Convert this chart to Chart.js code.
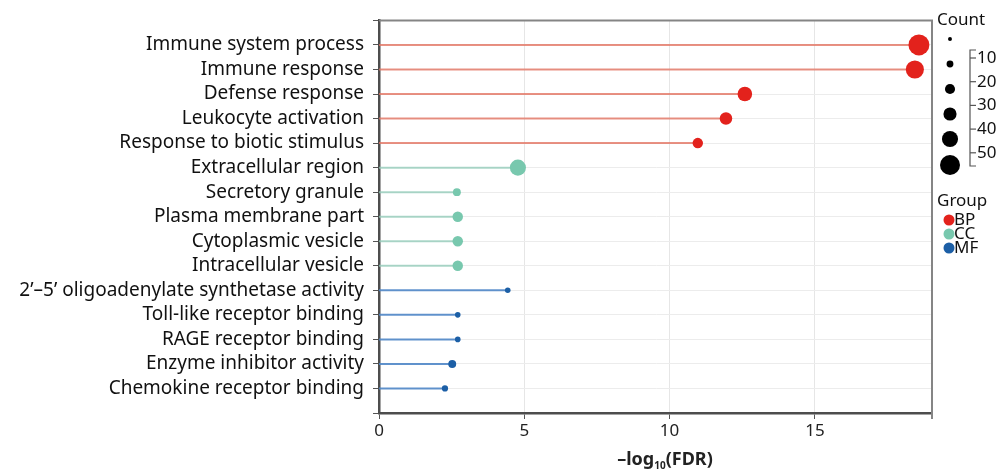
<!DOCTYPE html>
<html>
<head>
<meta charset="utf-8">
<script src="https://cdn.jsdelivr.net/npm/chart.js@4.4.1/dist/chart.umd.min.js"></script>
<style>
  html, body { margin: 0; padding: 0; background: #fff; }
  #wrap { width: 1002px; height: 470px; }
</style>
</head>
<body>
<div id="wrap"><canvas id="go-chart" width="1002" height="470"></canvas></div>
<script>
const categories = [
   "Immune system process",
   "Immune response",
   "Defense response",
   "Leukocyte activation",
   "Response to biotic stimulus",
   "Extracellular region",
   "Secretory granule",
   "Plasma membrane part",
   "Cytoplasmic vesicle",
   "Intracellular vesicle",
   "2\u2019\u20135\u2019 oligoadenylate synthetase activity",
   "Toll-like receptor binding",
   "RAGE receptor binding",
   "Enzyme inhibitor activity",
   "Chemokine receptor binding",
];
const groups = ["BP", "BP", "BP", "BP", "BP", "CC", "CC", "CC", "CC", "CC", "MF", "MF", "MF", "MF", "MF"];
const fdrScores = [18.58, 18.44, 12.59, 11.94, 10.97, 4.78, 2.68, 2.71, 2.71, 2.71, 4.43, 2.71, 2.71, 2.52, 2.27];
const counts = [56, 42, 27, 20, 14, 33, 8, 14, 14, 14, 4, 4, 4, 8, 5];
const xTickValues = [0, 5, 10, 15];
const X_MAX = 19.03;

const countLegendSizes = [2, 6, 13, 22, 33, 51];
const countLegendLabels = ["10", "20", "30", "40", "50"];
const groupNames = ["BP", "CC", "MF"];

const FONT = "'Noto Sans', 'Open Sans', sans-serif";
const GROUP_DOT = { BP: "#e3221c", CC: "#78c8ae", MF: "#1c5fa6" };
const GROUP_LINE = { BP: "rgba(228,118,100,0.8)", CC: "rgba(150,205,188,0.8)", MF: "rgba(80,135,200,0.9)" };

function radiusFor(count) {
   return 1.4 * Math.sqrt(count);
}

const dotData = fdrScores.map((v, i) => ({ x: v, y: i }));

const stemSets = fdrScores.map((v, i) => ({
   type: "line",
   data: [{ x: 0, y: i }, { x: v, y: i }],
   borderColor: GROUP_LINE[groups[i]],
   borderWidth: 2,
   pointRadius: 0,
   showLine: true,
   fill: false,
}));

const extrasPlugin = {
   id: "extras",
   afterDraw(chart) {
      const { ctx, chartArea } = chart;
      ctx.save();

      // top + right frame
      ctx.strokeStyle = "#858585";
      ctx.lineWidth = 2;
      ctx.beginPath();
      ctx.moveTo(chartArea.left, chartArea.top);
      ctx.lineTo(chartArea.right, chartArea.top);
      ctx.lineTo(chartArea.right, chartArea.bottom + 6);
      ctx.stroke();

      // x title with subscript
      ctx.fillStyle = "#222";
      ctx.textBaseline = "alphabetic";
      const big = `bold 18px ${FONT}`;
      const small = `bold 10px ${FONT}`;
      const parts = [["\u2013log", big, 0], ["10", small, 4], ["(FDR)", big, 0]];
      let total = 0;
      parts.forEach(([t, f]) => { ctx.font = f; total += ctx.measureText(t).width; });
      let x = 665 - total / 2;
      const base = 465;
      parts.forEach(([t, f, dy]) => {
         ctx.font = f;
         ctx.fillText(t, x, base + dy);
         x += ctx.measureText(t).width;
      });

      // Count legend
      ctx.font = `17px ${FONT}`;
      ctx.fillStyle = "#111";
      ctx.textBaseline = "middle";
      ctx.textAlign = "left";
      ctx.fillText("Count", 937, 20);
      const dotYs = [39, 64, 89, 114, 139, 165];
      countLegendSizes.forEach((c, i) => {
         ctx.beginPath();
         ctx.arc(950, dotYs[i], radiusFor(c), 0, Math.PI * 2);
         ctx.fillStyle = "#000";
         ctx.fill();
      });
      ctx.strokeStyle = "#555";
      ctx.lineWidth = 1.2;
      ctx.beginPath();
      ctx.moveTo(976, 50);
      ctx.lineTo(970, 50);
      ctx.lineTo(970, 166);
      ctx.lineTo(976, 166);
      ctx.stroke();
      ctx.fillStyle = "#111";
      countLegendLabels.forEach((lbl, i) => {
         const y = 58 + i * 23.7;
         ctx.beginPath();
         ctx.moveTo(970, y);
         ctx.lineTo(976, y);
         ctx.stroke();
         ctx.fillText(lbl, 977, y);
      });

      // Group legend
      ctx.fillText("Group", 937, 201);
      groupNames.forEach((g, i) => {
         const y = 220 + i * 14;
         ctx.beginPath();
         ctx.arc(949, y, 5.5, 0, Math.PI * 2);
         ctx.fillStyle = GROUP_DOT[g];
         ctx.fill();
         ctx.fillStyle = "#111";
         ctx.fillText(g, 954, y);
      });

      ctx.restore();
   },
};

new Chart(document.getElementById("go-chart"), {
   type: "scatter",
   data: {
      datasets: [
         {
            data: dotData,
            backgroundColor: groups.map((g) => GROUP_DOT[g]),
            borderColor: groups.map((g) => GROUP_DOT[g]),
            borderWidth: 0,
            pointRadius: counts.map(radiusFor),
            pointHoverRadius: counts.map(radiusFor),
         },
         ...stemSets,
      ],
   },
   options: {
      responsive: false,
      animation: false,
      layout: { padding: { top: 18, right: 70, left: 0, bottom: 0 } },
      plugins: { legend: { display: false }, tooltip: { enabled: false } },
      scales: {
         x: {
            type: "linear",
            min: 0,
            max: X_MAX,
            afterBuildTicks: (scale) => { scale.ticks = xTickValues.map((v) => ({ value: v })); },
            afterFit: (scale) => { scale.height = 57; },
            grid: { color: (c) => (c.tick && c.tick.value === 0 ? "rgba(0,0,0,0)" : "#e6e6e6"), lineWidth: 1, tickColor: "#555", tickLength: 6 },
            border: { color: "#4d4d4d", width: 2.5 },
            ticks: { color: "#222", font: { family: FONT, size: 17 }, padding: 2 },
         },
         y: {
            type: "linear",
            reverse: true,
            min: -1,
            max: 15,
            afterBuildTicks: (scale) => {
               const t = [];
               for (let i = -1; i <= 15; i++) t.push({ value: i });
               scale.ticks = t;
            },
            afterFit: (scale) => { scale.width = 379; },
            grid: { color: "#ececec", lineWidth: 1, tickColor: "#555", tickLength: 6 },
            border: { color: "#4d4d4d", width: 2.5 },
            ticks: {
               color: "#111",
               font: { family: FONT, size: 19 },
               padding: 9,
               autoSkip: false,
               callback: (v) => categories[v] || "",
            },
         },
      },
   },
   plugins: [extrasPlugin],
});
</script>
</body>
</html>
